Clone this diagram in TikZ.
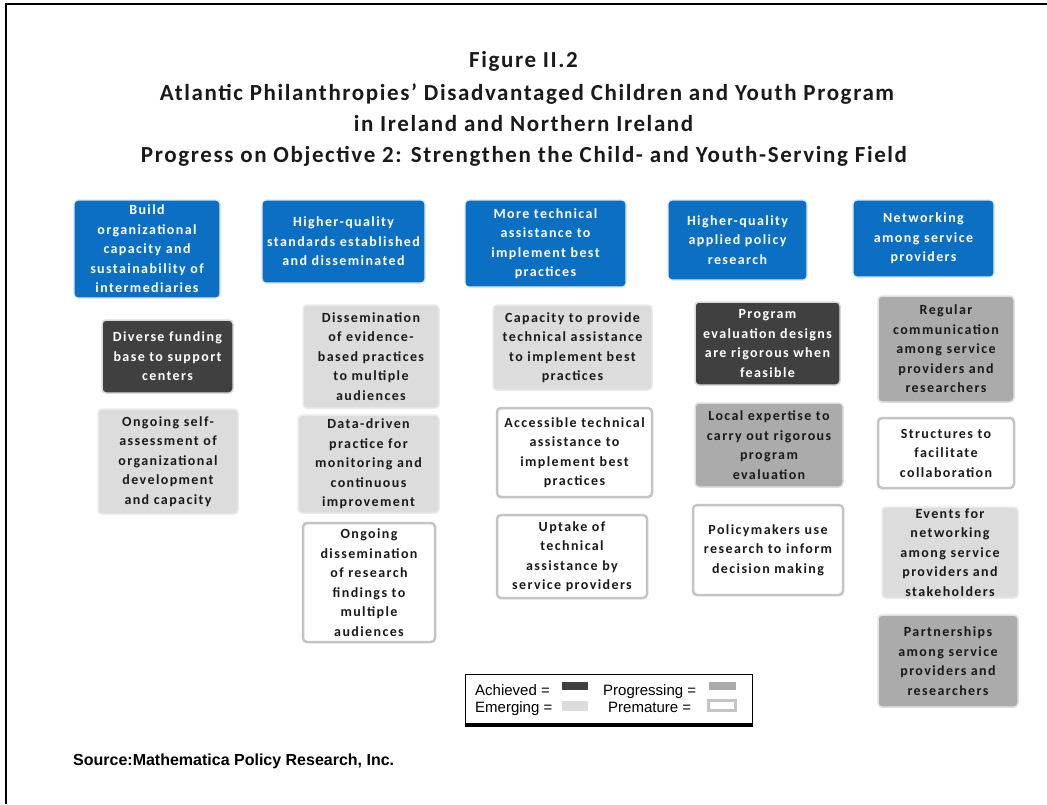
\documentclass[tikz,border=0pt]{standalone}
\usepackage{fontspec}
\setmainfont{Carlito}
\newfontfamily\boxfont[LetterSpace=10]{Carlito}
\newfontfamily\titlefont[LetterSpace=7]{Carlito}
\newfontfamily\arialfont{Liberation Sans}
\usetikzlibrary{backgrounds}
\definecolor{hdrblue}{HTML}{0B6FC3}
\definecolor{achv}{HTML}{404040}
\definecolor{prog}{HTML}{ABABAB}
\definecolor{emrg}{HTML}{DCDCDC}
\definecolor{prem}{HTML}{C4C4C4}
\definecolor{conn}{HTML}{ADADAD}
\definecolor{txt}{HTML}{1A1A1A}
\newcommand\ubox[7]{\node[#6, minimum width={(#4-#2)*1pt}, minimum height={(#5-#3)*1pt}] (#1) at ({(#2+#4)/2},{(#3+#5)/2}) {#7};}
\tikzset{
  basebox/.style={rounded corners=4pt, align=center, inner sep=1pt, text=txt,
    font=\boxfont\bfseries\fontsize{14}{19.5}\selectfont},
  hdr/.style={basebox, fill=hdrblue, draw=hdrblue!15, line width=1.2pt, text=white},
  achieved/.style={basebox, fill=achv, draw=black!15, line width=1.5pt, text=white},
  progressing/.style={basebox, fill=prog, draw=black!12, line width=1.5pt},
  emerging/.style={basebox, fill=emrg, draw=black!8, line width=1.5pt},
  premature/.style={basebox, fill=white, draw=prem, line width=2.5pt},
  connline/.style={draw=conn, line width=3.5pt},
  titletext/.style={font=\titlefont\bfseries\fontsize{23}{27}\selectfont, text=txt, anchor=base, inner sep=0pt},
  legtext/.style={font=\arialfont\fontsize{15}{16}\selectfont, anchor=base west, inner sep=0pt},
}
\begin{document}
\begin{tikzpicture}[x=1pt,y=-1pt]
\useasboundingbox (0,0) rectangle (1047,804);
\fill[white] (0,0) rectangle (1047,804);
% frame
\coordinate (ftl) at (6,4);
\coordinate (ftr) at (1047,4);
\coordinate (fbl) at (6,804);
\draw[line width=2pt] (ftr) -- (ftl) -- (fbl);
% title
\node[titletext] (t1) at (523.5,67) {Figure II.2};
\node[titletext] (t2) at (527,100) {Atlantic Philanthropies’ Disadvantaged Children and Youth Program};
\node[titletext] (t3) at (523.5,131) {in Ireland and Northern Ireland};
\node[titletext] (t4) at (524,162) {Progress on Objective 2: Strengthen the Child- and Youth-Serving Field};
% headers
\ubox{h1}{74}{200}{220}{298}{hdr}{Build\\organizational\\capacity and\\sustainability of\\intermediaries}
\ubox{h2}{262}{200}{425}{283}{hdr}{Higher-quality\\standards established\\and disseminated}
\ubox{h3}{465}{200}{626}{287}{hdr}{More technical\\assistance to\\implement best\\practices}
\ubox{h4}{668}{200}{807}{280}{hdr}{Higher-quality\\applied policy\\research}
\ubox{h5}{853}{200}{994}{277}{hdr}{Networking\\among service\\providers}
% column 1
\ubox{c11}{102}{320}{233}{393}{achieved}{Diverse funding\\base to support\\centers}
\ubox{c12}{98}{409}{238}{514}{emerging}{Ongoing self-\\assessment of\\organizational\\development\\and capacity}
% column 2
\ubox{c21}{303}{305}{439}{408}{emerging}{Dissemination\\of evidence-\\based practices\\to multiple\\audiences}
\ubox{c22}{298}{415}{439}{513}{emerging}{Data-driven\\practice for\\monitoring and\\continuous\\improvement}
\ubox{c23}{303}{523}{435}{642}{premature}{Ongoing\\dissemination\\of research\\findings to\\multiple\\audiences}
% column 3
\ubox{c31}{493}{305}{652}{390}{emerging}{Capacity to provide\\technical assistance\\to implement best\\practices}
\ubox{c32}{497}{408}{652}{497}{premature}{Accessible technical\\assistance to\\implement best\\practices}
\ubox{c33}{497}{515}{647}{598}{premature}{Uptake of\\technical\\assistance by\\service providers}
% column 4
\ubox{c41}{695}{302}{840}{385}{achieved}{Program\\evaluation designs\\are rigorous when\\feasible}
\ubox{c42}{695}{403}{843}{487}{progressing}{Local expertise to\\carry out rigorous\\program\\evaluation}
\ubox{c43}{693}{505}{843}{595}{premature}{Policymakers use\\research to inform\\decision making}
% column 5
\ubox{c51}{878}{296}{1014}{402}{progressing}{Regular\\communication\\among service\\providers and\\researchers}
\ubox{c52}{878}{418}{1014}{488}{premature}{Structures to\\facilitate\\collaboration}
\ubox{c53}{882}{507}{1018}{598}{emerging}{Events for\\networking\\among service\\providers and\\stakeholders}
\ubox{c54}{878}{615}{1018}{707}{progressing}{Partnerships\\among service\\providers and\\researchers}
% connectors
\begin{scope}[on background layer]
\foreach \c in {c11,c12} \draw[connline] ([xshift=11pt]h1.south west) |- (\c.west);
\foreach \c in {c21,c22,c23} \draw[connline] ([xshift=14pt]h2.south west) |- (\c.west);
\foreach \c in {c31,c32,c33} \draw[connline] ([xshift=14pt]h3.south west) |- (\c.west);
\foreach \c in {c41,c42,c43} \draw[connline] ([xshift=13pt]h4.south west) |- (\c.west);
\foreach \c in {c51,c52,c53,c54} \draw[connline] ([xshift=14pt]h5.south west) |- (\c.west);
\end{scope}
% legend
\node[draw, line width=1pt, minimum width=287pt, minimum height=49pt, inner sep=0pt] (leg) at (608.5,698.5) {};
\draw[line width=3pt] ([yshift=-1.5pt]leg.south west) -- ([yshift=-1.5pt]leg.south east);
\node[legtext] (la) at (475,695) {Achieved =};
\node[legtext] (lp) at (603,695) {Progressing =};
\node[legtext] (le) at (475,712) {Emerging =};
\node[legtext] (lm) at (608,712) {Premature =};
\fill[achv] (562,682) rectangle (588,690);
\fill[prog] (709,682) rectangle (736,690);
\fill[emrg] (562,701) rectangle (588,711);
\draw[prem, line width=2.5pt] (708.5,700.5) rectangle (735.5,710.5);
% source
\node[font=\arialfont\bfseries\fontsize{16}{18}\selectfont, anchor=base west, inner sep=0pt] (src) at (73,765) {Source:Mathematica Policy Research, Inc.};
\end{tikzpicture}
\end{document}
